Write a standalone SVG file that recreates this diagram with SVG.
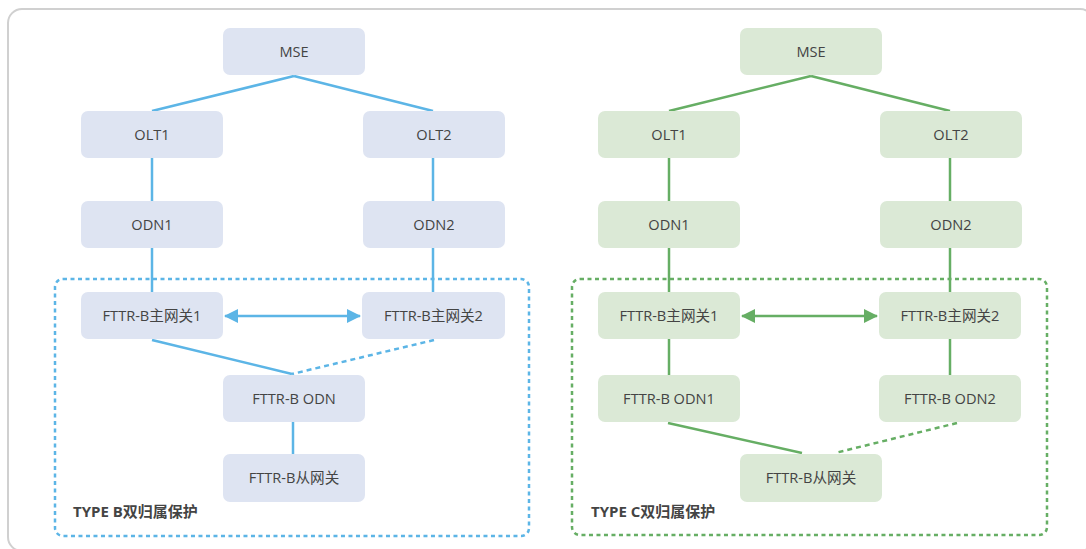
<svg xmlns="http://www.w3.org/2000/svg" width="1086" height="549" viewBox="0 0 1086 549">
<defs>
<style>
.nb{fill:#dee4f2}
.ng{fill:#dbe9d6}
.t{font-family:"Open Sans","Noto Sans","Noto Sans CJK SC",sans-serif;font-size:14.6px;fill:#444;text-anchor:middle}
.lbl{font-family:"Open Sans","Noto Sans","Noto Sans CJK SC",sans-serif;font-size:15px;font-weight:bold;fill:#444}
.lb{stroke:#5cb5e6;stroke-width:2.5;fill:none}
.lg{stroke:#66ae64;stroke-width:2.5;fill:none}
.d{stroke-dasharray:5 4}
</style>
<marker id="ab" viewBox="0 0 14 14" refX="13" refY="7" markerWidth="14" markerHeight="14" markerUnits="userSpaceOnUse" orient="auto-start-reverse"><path d="M0,0 L14,7 L0,14 Z" fill="#5cb5e6"/></marker>
<marker id="ag" viewBox="0 0 14 14" refX="13" refY="7" markerWidth="14" markerHeight="14" markerUnits="userSpaceOnUse" orient="auto-start-reverse"><path d="M0,0 L14,7 L0,14 Z" fill="#66ae64"/></marker>
</defs>
<rect x="0" y="0" width="1086" height="549" fill="#fff"/>
<rect x="8" y="9" width="1086" height="542" rx="14" fill="none" stroke="#d0d0d0" stroke-width="2"/>

<g id="groupB">
<rect x="55" y="279" width="474" height="257" rx="8" fill="none" stroke="#5cb5e6" stroke-width="2.5" stroke-dasharray="4 3.5"/>
<text class="lbl" x="73" y="517">TYPE B双归属保护</text>
</g>
<g id="groupC">
<rect x="572" y="279" width="475" height="256" rx="8" fill="none" stroke="#66ae64" stroke-width="2.5" stroke-dasharray="4 3.5"/>
<text class="lbl" x="591" y="517">TYPE C双归属保护</text>
</g>

<g id="connectors">
<path class="lb" d="M294,76 L152,111"/>
<path class="lb" d="M294,76 L433,111"/>
<path class="lb" d="M152,158 V201"/>
<path class="lb" d="M433,158 V201"/>
<path class="lb" d="M152,248 V292"/>
<path class="lb" d="M433,248 V292"/>
<path class="lb" d="M225,316 H360" marker-start="url(#ab)" marker-end="url(#ab)"/>
<path class="lb" d="M152,340 L292,374"/>
<path class="lb d" d="M434,340 L292,374"/>
<path class="lb" d="M293,422 V454"/>

<path class="lg" d="M811,76 L669,111"/>
<path class="lg" d="M811,76 L950,111"/>
<path class="lg" d="M669,158 V201"/>
<path class="lg" d="M950,158 V201"/>
<path class="lg" d="M669,248 V292"/>
<path class="lg" d="M950,248 V292"/>
<path class="lg" d="M742,316 H877" marker-start="url(#ag)" marker-end="url(#ag)"/>
<path class="lg" d="M669,339 V375"/>
<path class="lg" d="M950,339 V375"/>
<path class="lg" d="M668,423 L802,453"/>
<path class="lg d" d="M957,423 L835,453"/>
</g>

<g id="b-mse"><rect class="nb" x="223" y="28" width="142" height="47" rx="7"/><text class="t" x="294" y="56.5">MSE</text></g>
<g id="b-olt1"><rect class="nb" x="81" y="111" width="142" height="47" rx="7"/><text class="t" x="152" y="139.5">OLT1</text></g>
<g id="b-olt2"><rect class="nb" x="363" y="111" width="142" height="47" rx="7"/><text class="t" x="434" y="139.5">OLT2</text></g>
<g id="b-odn1"><rect class="nb" x="81" y="201" width="142" height="47" rx="7"/><text class="t" x="152" y="229.5">ODN1</text></g>
<g id="b-odn2"><rect class="nb" x="363" y="201" width="142" height="47" rx="7"/><text class="t" x="434" y="229.5">ODN2</text></g>
<g id="b-gw1"><rect class="nb" x="81" y="292" width="142" height="47" rx="7"/><text class="t" x="152" y="320.5">FTTR-B主网关1</text></g>
<g id="b-gw2"><rect class="nb" x="362" y="292" width="143" height="47" rx="7"/><text class="t" x="433.5" y="320.5">FTTR-B主网关2</text></g>
<g id="b-fodn"><rect class="nb" x="223" y="375" width="142" height="47" rx="7"/><text class="t" x="294" y="403.5">FTTR-B ODN</text></g>
<g id="b-sub"><rect class="nb" x="223" y="454" width="142" height="48" rx="7"/><text class="t" x="294" y="482.5">FTTR-B从网关</text></g>

<g id="c-mse"><rect class="ng" x="740" y="28" width="142" height="47" rx="7"/><text class="t" x="811" y="56.5">MSE</text></g>
<g id="c-olt1"><rect class="ng" x="598" y="111" width="142" height="47" rx="7"/><text class="t" x="669" y="139.5">OLT1</text></g>
<g id="c-olt2"><rect class="ng" x="880" y="111" width="142" height="47" rx="7"/><text class="t" x="951" y="139.5">OLT2</text></g>
<g id="c-odn1"><rect class="ng" x="598" y="201" width="142" height="47" rx="7"/><text class="t" x="669" y="229.5">ODN1</text></g>
<g id="c-odn2"><rect class="ng" x="880" y="201" width="142" height="47" rx="7"/><text class="t" x="951" y="229.5">ODN2</text></g>
<g id="c-gw1"><rect class="ng" x="598" y="292" width="142" height="47" rx="7"/><text class="t" x="669" y="320.5">FTTR-B主网关1</text></g>
<g id="c-gw2"><rect class="ng" x="879" y="292" width="142" height="47" rx="7"/><text class="t" x="950" y="320.5">FTTR-B主网关2</text></g>
<g id="c-fodn1"><rect class="ng" x="598" y="375" width="142" height="47" rx="7"/><text class="t" x="669" y="403.5">FTTR-B ODN1</text></g>
<g id="c-fodn2"><rect class="ng" x="879" y="375" width="142" height="47" rx="7"/><text class="t" x="950" y="403.5">FTTR-B ODN2</text></g>
<g id="c-sub"><rect class="ng" x="740" y="454" width="142" height="48" rx="7"/><text class="t" x="811" y="482.5">FTTR-B从网关</text></g>
</svg>
